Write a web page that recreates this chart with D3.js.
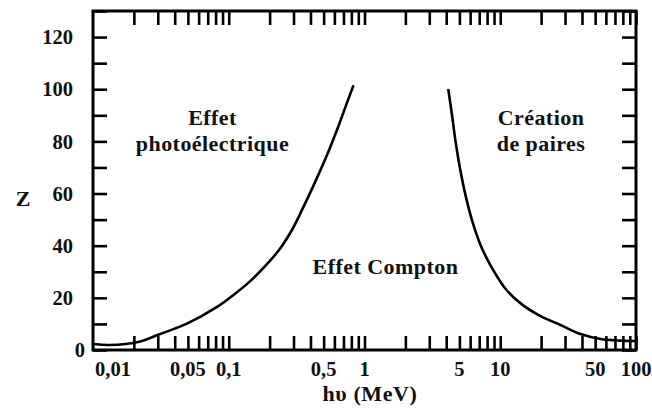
<!DOCTYPE html>
<html><head><meta charset="utf-8">
<script src="https://cdn.jsdelivr.net/npm/d3@7"></script>
<style>
html,body{margin:0;padding:0;background:#fff;}
</style></head>
<body><svg id="c" width="652" height="408" font-family="'Liberation Serif', 'Times New Roman', serif" font-weight="bold"></svg>
<script>
// ---- data ----
const photoEnergy = [0.01013, 0.01322, 0.02201, 0.02986, 0.04967, 0.0826, 0.1084, 0.1446, 0.1897, 0.2405, 0.2948, 0.3494, 0.4071, 0.4741, 0.5524, 0.6435, 0.7368, 0.8298];
const photoZ      = [2.3,     1.9,     3.2,     5.75,    10.2,    16.6,   21.1,   26.5,   32.7,   39.1,   46.4,   54.1,   61.4,   69.0,   77.1,   85.9,   94.3,   101.5];
const pairEnergy  = [4.137, 4.412, 4.681, 5.051, 5.546, 6.245, 7.153, 8.62, 11.12, 14.59, 19.8, 27.79, 39.01, 54.77, 76.88, 100];
const pairZ       = [100.1, 90.1,  80.1,  69.7,  59.4,  49.1,  40.3,  31.8, 23.0,  17.3,  13.0, 9.6,   6.1,   4.2,   3.6,   3.45];
const xTickValues = [0.02,0.03,0.04,0.05,0.06,0.07,0.08,0.09,0.1,0.2,0.3,0.4,0.5,0.6,0.7,0.8,0.9,1,2,3,4,5,6,7,8,9,10,20,30,40,50,60,70,80,90,100];
const xLabelValues = [0.01, 0.05, 0.1, 0.5, 1, 5, 10, 50, 100];
const xLabels      = ["0,01","0,05","0,1","0,5","1","5","10","50","100"];
const yTickValues  = [0,10,20,30,40,50,60,70,80,90,100,110,120,130];
const yLabelValues = [0,20,40,60,80,100,120];
const regionLabels = [["Effet","photoélectrique"],["Création","de paires"],["Effet Compton"]];
const xTitle = "hυ (MeV)", yTitle = "Z";

// ---- layout ----
const L = 93, R = 636, T = 11, B = 350;
const svg = d3.select("#c");
const x = d3.scaleLog().domain([0.01, 100]).range([L, R]);
const y = d3.scaleLinear().domain([0, 130]).range([B, T]);

function styleAxis(g){
  g.select(".domain").remove();
  g.selectAll(".tick line").attr("stroke","#000").attr("stroke-width",2.6);
}
svg.append("g").attr("transform",`translate(0,${B})`)
  .call(d3.axisBottom(x).tickValues(xTickValues).tickSizeInner(-14).tickSizeOuter(0).tickFormat(""))
  .call(styleAxis);
svg.append("g").attr("transform",`translate(0,${T})`)
  .call(d3.axisTop(x).tickValues(xTickValues).tickSizeInner(-14).tickSizeOuter(0).tickFormat(""))
  .call(styleAxis);
svg.append("g").attr("transform",`translate(${L},0)`)
  .call(d3.axisLeft(y).tickValues(yTickValues).tickSizeInner(-14).tickSizeOuter(0).tickFormat(""))
  .call(styleAxis);
svg.append("g").attr("transform",`translate(${R},0)`)
  .call(d3.axisRight(y).tickValues(yTickValues).tickSizeInner(-14).tickSizeOuter(0).tickFormat(""))
  .call(styleAxis);

// frame
svg.append("rect").attr("x",L).attr("y",T).attr("width",R-L).attr("height",B-T)
  .attr("fill","none").attr("stroke","#000").attr("stroke-width",3);

// tick labels
const fs = 20.5, fsL = 22;
svg.append("g").selectAll("text").data(xLabelValues).join("text")
  .attr("x",(d)=>x(d) + (d===0.01 ? 20 : 0))
  .attr("y",376).attr("text-anchor","middle").attr("font-size",fs).attr("fill","#111")
  .text((d,i)=>xLabels[i]);
svg.append("g").selectAll("text").data(yLabelValues).join("text")
  .attr("x",(d)=> d===0 ? 85 : 73)
  .attr("y",(d)=>y(d)).attr("dy","0.35em").attr("text-anchor","end").attr("font-size",fs).attr("fill","#111")
  .text((d)=>d);

// titles
svg.append("text").attr("x",370).attr("y",401).attr("text-anchor","middle").attr("font-size",fsL)
  .attr("letter-spacing",0.6).attr("fill","#111").text(xTitle);
svg.append("text").attr("x",23).attr("y",206).attr("text-anchor","middle").attr("font-size",fsL).attr("fill","#111").text(yTitle);

// curves
const line = d3.line().x(d=>x(d[0])).y(d=>y(d[1])).curve(d3.curveCatmullRom.alpha(0.5));
svg.append("path").datum(photoEnergy.map((e,i)=>[e,photoZ[i]]))
  .attr("d",line).attr("fill","none").attr("stroke","#000").attr("stroke-width",2.6);
svg.append("path").datum(pairEnergy.map((e,i)=>[e,pairZ[i]]))
  .attr("d",line).attr("fill","none").attr("stroke","#000").attr("stroke-width",2.6);

// region labels
const ann = [
  {lines:regionLabels[0], cx:212.5, by:[125,151]},
  {lines:regionLabels[1], cx:541, by:[125,151]},
  {lines:regionLabels[2], cx:385.5, by:[274]}
];
ann.forEach(a=>{
  a.lines.forEach((t,i)=>{
    svg.append("text").attr("x",a.cx).attr("y",a.by[i]).attr("text-anchor","middle")
      .attr("font-size",fsL).attr("letter-spacing",0.45).attr("fill","#111").text(t);
  });
});
</script></body></html>
